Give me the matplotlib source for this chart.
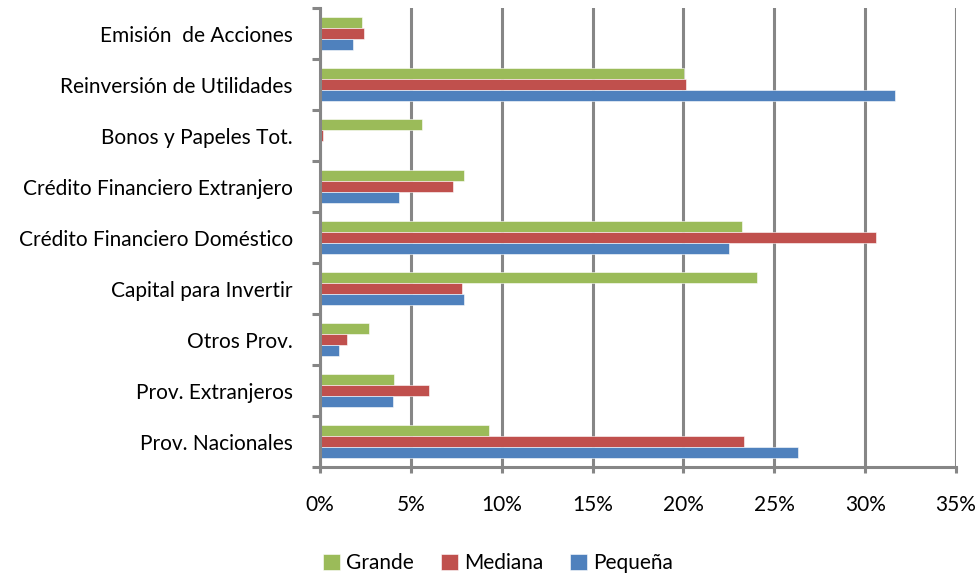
import matplotlib
matplotlib.use("Agg")
import matplotlib.pyplot as plt
from matplotlib.ticker import FixedLocator, PercentFormatter
import numpy as np

plt.rcParams['font.family'] = ['Lato', 'DejaVu Sans']

# Categories listed bottom to top
categories = [
    "Prov. Nacionales",
    "Prov. Extranjeros",
    "Otros Prov.",
    "Capital para Invertir",
    "Crédito Financiero Doméstico",
    "Crédito Financiero Extranjero",
    "Bonos y Papeles Tot.",
    "Reinversión de Utilidades",
    "Emisión  de Acciones",
]

grande = [9.3, 4.05, 2.7, 24.05, 23.25, 7.95, 5.6, 20.05, 2.3]
mediana = [23.35, 6.0, 1.5, 7.8, 30.6, 7.3, 0.15, 20.15, 2.4]
pequena = [26.3, 4.0, 1.05, 7.9, 22.5, 4.35, 0.0, 31.65, 1.8]

series_names = ["Grande", "Mediana", "Pequeña"]
series_colors = ["#9BBB59", "#C0504D", "#4F81BD"]
x_ticks = [0, 5, 10, 15, 20, 25, 30, 35]

grid_color = "#868686"
fs = 15

fig = plt.figure(figsize=(9.78, 5.77), dpi=100)
ax = fig.add_axes([320 / 978, 1 - 467 / 577, 636 / 978, 459 / 577])

y = np.arange(len(categories))
h = 0.222
for vals, off, col, name in zip([grande, mediana, pequena], [h, 0, -h],
                                series_colors, series_names):
    ax.barh(y + off, vals, height=h, color=col, label=name,
            edgecolor="white", linewidth=0.4, zorder=3)

ax.set_xlim(0, 35)
ax.set_ylim(-0.5, len(categories) - 0.5)
ax.set_xticks(x_ticks)
ax.xaxis.set_major_formatter(PercentFormatter(decimals=0))
ax.grid(axis="x", color=grid_color, linewidth=2.2, zorder=1)
ax.set_axisbelow(True)

# Y ticks at category boundaries, labels at category centres
ax.yaxis.set_major_locator(FixedLocator(np.arange(-0.5, len(categories), 1.0)))
ax.yaxis.set_major_formatter(plt.NullFormatter())
ax.yaxis.set_minor_locator(FixedLocator(y))
ax.set_yticklabels(categories, minor=True)
ax.tick_params(axis="y", which="major", length=6, width=2.2, color=grid_color)
ax.tick_params(axis="y", which="minor", length=0, pad=19.5, labelsize=fs)
ax.tick_params(axis="x", length=4, width=2.2, color=grid_color, pad=16,
               labelsize=fs)

for side in ("top", "right"):
    ax.spines[side].set_visible(False)
for side in ("left", "bottom"):
    ax.spines[side].set_color(grid_color)
    ax.spines[side].set_linewidth(2.2)
    ax.spines[side].set_zorder(4)

fig.legend(loc="center", bbox_to_anchor=(498 / 978, 1 - 563 / 577), ncol=3,
           frameon=False, fontsize=fs, handlelength=0.8, handleheight=0.8,
           handletextpad=0.3, columnspacing=1.3)

fig.savefig("out.png", dpi=100)
